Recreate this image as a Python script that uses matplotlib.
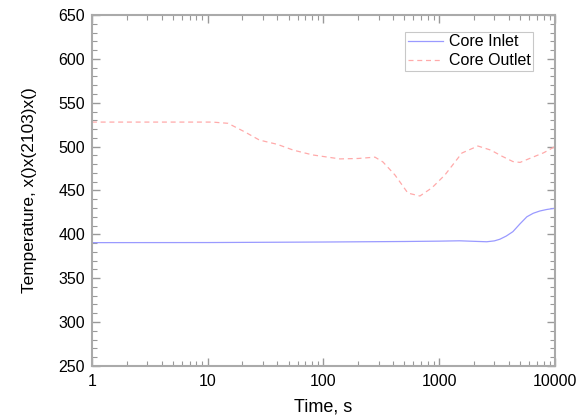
import matplotlib
matplotlib.use("Agg")
import matplotlib.pyplot as plt
from matplotlib.ticker import LogLocator, MultipleLocator, FixedLocator, NullFormatter

plt.rcParams['font.family'] = ['Liberation Sans', 'DejaVu Sans']

inlet_t = [1, 10, 100, 500, 1000, 1500, 2000, 2580, 3000, 3350, 3800, 4335, 5000, 5730, 6500, 7420, 8500, 10000]
inlet_v = [390.5, 390.6, 391.2, 391.8, 392.2, 392.6, 392.0, 391.5, 392.5, 394.4, 398.0, 403.0, 412.0, 420.0, 424.0, 426.6, 428.3, 429.7]

outlet_t = [1, 5, 11, 15, 21, 28, 40, 55, 81, 139, 200, 279, 327, 415, 537, 682, 866, 1122, 1573, 2162, 2800, 3500, 4335, 5000, 6450, 8000, 10000]
outlet_v = [528, 528, 528, 526.6, 516.7, 507.5, 502.6, 496, 490.5, 486, 486.5, 488, 482.5, 467.7, 447, 443.7, 453, 467.7, 492.7, 500.7, 496, 489, 483, 482, 488, 493, 500]

fig = plt.figure(figsize=(5.78, 4.2), dpi=100)
ax = fig.add_axes([0.159, 0.129, 0.801, 0.835])

ax.plot(inlet_t, inlet_v, color='#9a9aff', lw=0.9, label='Core Inlet')
ax.plot(outlet_t, outlet_v, color='#ffaaaa', lw=0.9, ls=(0, (4, 3)), label='Core Outlet')

ax.set_xscale('log')
ax.set_xlim(1, 10000)
ax.set_ylim(250, 650)
ax.xaxis.set_major_locator(FixedLocator([1, 10, 100, 1000, 10000]))
ax.set_xticklabels(['1', '10', '100', '1000', '10000'])
ax.xaxis.set_minor_locator(LogLocator(base=10, subs=range(2, 10)))
ax.xaxis.set_minor_formatter(NullFormatter())
ax.yaxis.set_major_locator(MultipleLocator(50))
ax.yaxis.set_minor_locator(MultipleLocator(10))

for s in ax.spines.values():
    s.set_color('#aaaaaa')
    s.set_linewidth(1.5)

ax.tick_params(which='both', direction='in', top=True, right=True, colors='#999999', labelcolor='black', labelsize=11.5)
ax.tick_params(which='major', length=6, width=1.0)
ax.tick_params(which='minor', length=3.5, width=0.8)
ax.tick_params(axis='x', which='major', pad=6)
ax.tick_params(axis='y', which='major', pad=5)

ax.set_xlabel('Time, s', fontsize=13, labelpad=7)
ax.set_ylabel('Temperature, x()x(2103)x()', fontsize=12.4, labelpad=15)

leg = ax.legend(loc='upper right', bbox_to_anchor=(0.9525, 0.9516), fontsize=11.5, frameon=True, fancybox=False,
                edgecolor='#bbbbbb', handlelength=2.2, borderpad=0.15, labelspacing=0.25, handletextpad=0.35,
                borderaxespad=0.0)
leg.get_frame().set_linewidth(0.8)

fig.savefig('out.png', dpi=100)
